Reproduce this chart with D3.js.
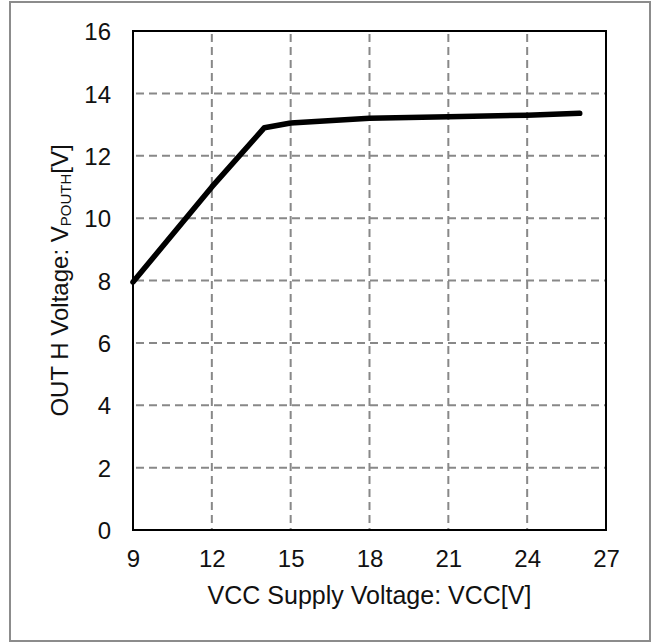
<!DOCTYPE html>
<html>
<head>
<meta charset="utf-8">
<script src="https://cdn.jsdelivr.net/npm/d3@7"></script>
<style>
  html, body { margin: 0; padding: 0; background: #fff; }
  svg { display: block; font-family: "Liberation Sans", Arial, sans-serif; }
</style>
</head>
<body>
<svg id="chart" width="653" height="643"></svg>
<script>
// OUT H voltage vs VCC supply voltage
const vccValues = [9, 12, 14, 15, 18, 21, 24, 26];
const vouthValues = [7.95, 11.0, 12.9, 13.05, 13.2, 13.25, 13.3, 13.36];
const xTicks = [9, 12, 15, 18, 21, 24, 27];
const yTicks = [0, 2, 4, 6, 8, 10, 12, 14, 16];

const svg = d3.select("#chart");
const margin = { left: 133, right: 47, top: 31, bottom: 113 };
const width = 653, height = 643;

const x = d3.scaleLinear().domain([9, 27]).range([margin.left, width - margin.right]);
const y = d3.scaleLinear().domain([0, 16]).range([height - margin.bottom, margin.top]);

// outer frame
svg.append("rect")
  .attr("x", 10).attr("y", 2)
  .attr("width", 640).attr("height", 639)
  .attr("fill", "none")
  .attr("stroke", "#8c8c8c")
  .attr("stroke-width", 2);

// grid
const grid = svg.append("g")
  .attr("stroke", "#888")
  .attr("stroke-width", 2)
  .attr("stroke-dasharray", "8,5");

grid.selectAll("line.h")
  .data(yTicks.filter(d => d > 0 && d < 16))
  .join("line")
  .attr("class", "h")
  .attr("x1", x(9) + 3).attr("x2", x(27))
  .attr("y1", d => y(d)).attr("y2", d => y(d));

grid.selectAll("line.v")
  .data(xTicks.filter(d => d > 9 && d < 27))
  .join("line")
  .attr("class", "v")
  .attr("x1", d => x(d)).attr("x2", d => x(d))
  .attr("y1", y(16) + 3).attr("y2", y(0));

// axes labels via d3 axes, no tick marks
const xAxis = svg.append("g")
  .attr("transform", `translate(0,${y(0)})`)
  .call(d3.axisBottom(x).tickValues(xTicks).tickSize(0).tickPadding(20).tickFormat(d3.format("d")));
const yAxis = svg.append("g")
  .attr("transform", `translate(${x(9)},0)`)
  .call(d3.axisLeft(y).tickValues(yTicks).tickSize(0).tickPadding(22).tickFormat(d3.format("d")));

[xAxis, yAxis].forEach(a => {
  a.select(".domain").remove();
  a.selectAll("text")
    .attr("font-family", "'Liberation Sans', Arial, sans-serif")
    .attr("font-size", 24)
    .attr("fill", "#111");
});
xAxis.selectAll("text").attr("dy", "0.72em");
yAxis.selectAll("text").attr("dy", "0.36em");

// plot frame
svg.append("rect")
  .attr("x", x(9)).attr("y", y(16))
  .attr("width", x(27) - x(9)).attr("height", y(0) - y(16))
  .attr("fill", "none")
  .attr("stroke", "#000")
  .attr("stroke-width", 2);

// data line
const line = d3.line()
  .x((d, i) => x(vccValues[i]))
  .y(d => y(d));

svg.append("path")
  .datum(vouthValues)
  .attr("d", line)
  .attr("fill", "none")
  .attr("stroke", "#000")
  .attr("stroke-width", 5.5)
  .attr("stroke-linejoin", "round")
  .attr("stroke-linecap", "round");

// x title
svg.append("text")
  .attr("x", (x(9) + x(27)) / 2)
  .attr("y", 604)
  .attr("text-anchor", "middle")
  .attr("font-size", 25)
  .attr("fill", "#111")
  .text("VCC Supply Voltage: VCC[V]");

// y title with subscript
const yTitle = svg.append("text")
  .attr("transform", `translate(68,${(y(0) + y(16)) / 2}) rotate(-90)`)
  .attr("text-anchor", "middle")
  .attr("font-size", 24)
  .attr("fill", "#111");
yTitle.append("tspan").text("OUT H Voltage: V");
yTitle.append("tspan").attr("font-size", 15).attr("dy", 3).text("POUTH");
yTitle.append("tspan").attr("dy", -3).text("[V]");
</script>
</body>
</html>
